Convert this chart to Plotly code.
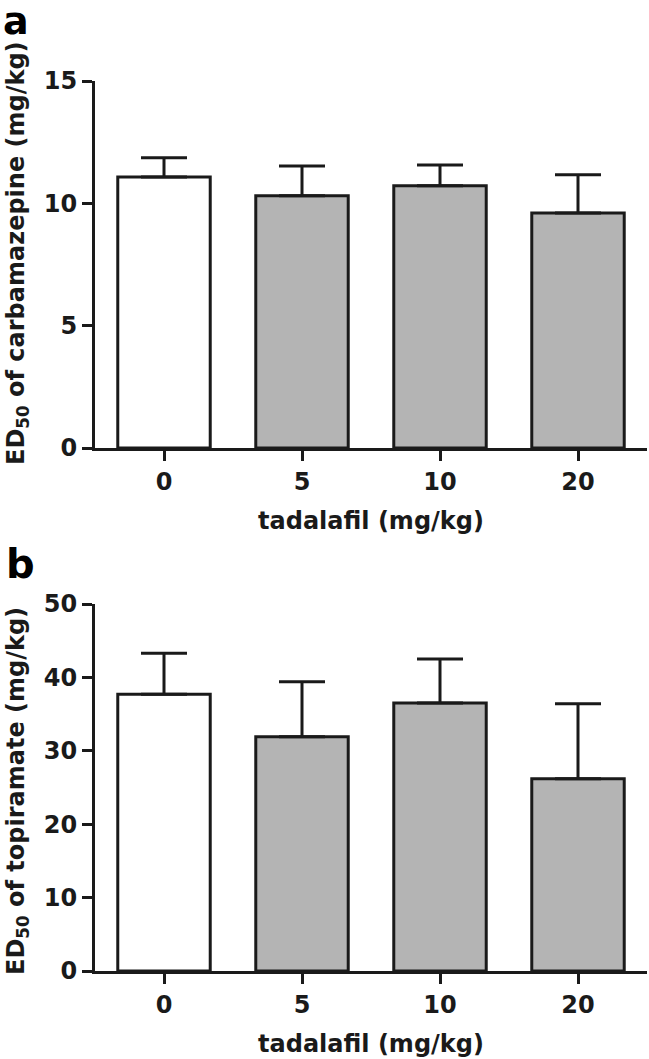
import plotly.graph_objects as go

# tadalafil dose groups (mg/kg)
doses = ["0", "5", "10", "20"]

# panel a: ED50 of carbamazepine (mg/kg), mean + upper error
carba_mean = [11.08, 10.31, 10.72, 9.61]
carba_err = [0.78, 1.22, 0.85, 1.56]

# panel b: ED50 of topiramate (mg/kg)
topi_mean = [37.7, 31.9, 36.5, 26.2]
topi_err = [5.6, 7.5, 6.0, 10.2]

W, H = 649, 1059
ink = "#1a1a1a"
fills = ["white", "#b4b4b4", "#b4b4b4", "#b4b4b4"]
font = dict(family="DejaVu Sans", size=24, color=ink, weight="bold")

def px_x(p):
    return p / W

def px_y(p):
    return 1 - p / H

fig = go.Figure()

for mean, err, xa, ya in [(carba_mean, carba_err, "x", "y"), (topi_mean, topi_err, "x2", "y2")]:
    fig.add_trace(go.Bar(
        x=doses, y=mean, xaxis=xa, yaxis=ya, width=0.67,
        marker=dict(color=fills, line=dict(color=ink, width=3)),
        error_y=dict(type="data", array=err, symmetric=False, arrayminus=[0] * 4,
                     color=ink, thickness=3, width=23),
        showlegend=False,
    ))

xdom = [px_x(95), px_x(647)]
common_x = dict(type="category", range=[-0.5, 3.5], showline=True, linecolor=ink, linewidth=3,
                ticks="outside", ticklen=10, tickwidth=3, tickcolor=ink, tickfont=font,
                showgrid=False, zeroline=False, domain=xdom, automargin=False,
                title=dict(text="tadalafil (mg/kg)", font=font, standoff=18))
common_y = dict(showline=True, linecolor=ink, linewidth=3, ticks="outside", ticklen=10,
                tickwidth=3, tickcolor=ink, tickfont=font, showgrid=False, zeroline=False,
                automargin=False)

fig.update_layout(
    width=W, height=H,
    margin=dict(l=0, r=0, t=0, b=0, autoexpand=False),
    plot_bgcolor="white", paper_bgcolor="white",
    bargap=0.33,
    xaxis=dict(anchor="y", **common_x),
    xaxis2=dict(anchor="y2", **common_x),
    yaxis=dict(anchor="x", domain=[px_y(448), px_y(81)], range=[0, 15], tickvals=[0, 5, 10, 15], **common_y),
    yaxis2=dict(anchor="x2", domain=[px_y(971), px_y(604)], range=[0, 50], tickvals=[0, 10, 20, 30, 40, 50], **common_y),
)

# y axis titles and panel letters
fig.add_annotation(text="ED<sub>50</sub> of carbamazepine (mg/kg)", textangle=-90, xref="paper", yref="paper",
                   x=px_x(17), y=px_y(467), xanchor="center", yanchor="bottom", showarrow=False, font=font)
fig.add_annotation(text="ED<sub>50</sub> of topiramate (mg/kg)", textangle=-90, xref="paper", yref="paper",
                   x=px_x(17), y=px_y(977), xanchor="center", yanchor="bottom", showarrow=False, font=font)
fig.add_annotation(text="a", xref="paper", yref="paper", x=px_x(16), y=px_y(21), xanchor="center", yanchor="middle",
                   showarrow=False, font=dict(family="DejaVu Sans", size=38, color="black", weight="bold"))
fig.add_annotation(text="b", xref="paper", yref="paper", x=px_x(20), y=px_y(564), xanchor="center", yanchor="middle",
                   showarrow=False, font=dict(family="DejaVu Sans", size=40, color="black", weight="bold"))

# drop the default page margin so the figure sits at the window's corner
fig.write_html("out.html", config={"displayModeBar": False},
               post_script="document.body.style.margin='0';")
